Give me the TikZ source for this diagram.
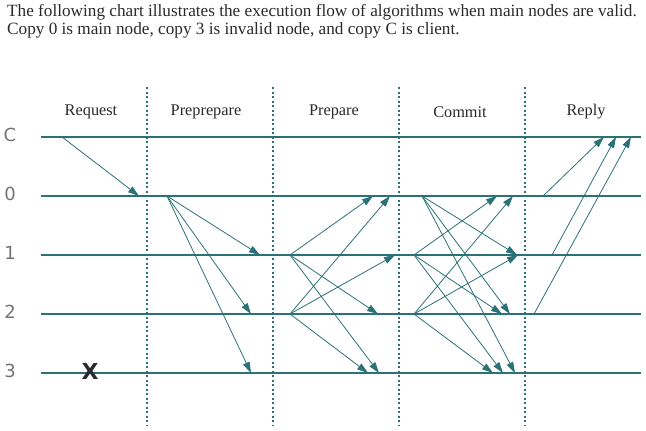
\documentclass[tikz,border=0pt]{standalone}
\usepackage{fontspec}
\setmainfont{Liberation Serif}
\newfontfamily\lblfont{DejaVu Sans}
\newfontfamily\xfont{DejaVu Sans}
\usetikzlibrary{arrows.meta}
\definecolor{teal}{HTML}{2B7178}
\definecolor{txt}{HTML}{2A2A2A}
\tikzset{
  hline/.style={draw=teal, line width=1.8pt},
  vline/.style={draw=teal, line width=1.5pt, dash pattern=on 2pt off 2.5pt},
  msg/.style={draw=teal, line width=0.8pt, -{Triangle[length=11pt,width=7pt]}},
  phase/.style={font=\fontsize{16.3}{18}\selectfont, text=txt},
  rowlbl/.style={font=\lblfont\fontsize{18}{20}\selectfont, text=black!55},
  hdr/.style={anchor=west, inner sep=0, font=\fontsize{17.2}{19}\selectfont, text=txt},
}
\begin{document}
\begin{tikzpicture}[x=1pt,y=-1pt]
\useasboundingbox (0,0) rectangle (646,431);
% header
\node[hdr] (h1) at (7,12) {The following chart illustrates the execution flow of algorithms when main nodes are valid.};
\node[hdr] (h2) at (7,30) {Copy 0 is main node, copy 3 is invalid node, and copy C is client.};
% phase labels
\node[phase] (pr) at (91,112) {Request};
\node[phase] (pp) at (206,112) {Preprepare};
\node[phase] (pa) at (334,112) {Prepare};
\node[phase] (cm) at (460,112) {Commit};
\node[phase] (rp) at (586,112) {Reply};
% vertical dotted lines
\foreach \x/\n in {147/a,273/b,399/c,525/d}{
  \coordinate (vt\n) at (\x,87);
  \coordinate (vb\n) at (\x,425);
  \draw[vline] (vt\n) -- (vb\n);
}
% rows
\foreach \y/\n/\t in {137/C/C,196/0/0,255/1/1,314/2/2,373/3/3}{
  \node[rowlbl] (l\n) at (10,\y-2) {\t};
  \coordinate (s\n) at (41,\y);
  \coordinate (e\n) at (641,\y);
  \draw[hline] (s\n) -- (e\n);
}
\node[font=\xfont\fontsize{22}{22}\selectfont\bfseries, text=txt] (x3) at (90,371) {X};
% Request
\coordinate (rqA) at (62,137); \coordinate (rqB) at (139,196);
\draw[msg] (rqA) -- (rqB);
% Preprepare
\coordinate (p0) at (167,196);
\coordinate (p01) at (260,255); \coordinate (p02) at (251,314); \coordinate (p03) at (251,373);
\draw[msg] (p0) -- (p01);
\draw[msg] (p0) -- (p02);
\draw[msg] (p0) -- (p03);
% Prepare
\coordinate (q1) at (290,255); \coordinate (q2) at (290,314);
\coordinate (q10) at (373,196); \coordinate (q12) at (378,314); \coordinate (q13) at (379,373);
\coordinate (q20) at (390,196); \coordinate (q21) at (395,255); \coordinate (q23) at (368,373);
\draw[msg] (q1) -- (q10);
\draw[msg] (q1) -- (q12);
\draw[msg] (q1) -- (q13);
\draw[msg] (q2) -- (q20);
\draw[msg] (q2) -- (q21);
\draw[msg] (q2) -- (q23);
% Commit
\coordinate (c0) at (422,196); \coordinate (c1) at (414,255); \coordinate (c2) at (414,314);
\coordinate (c01) at (517,255); \coordinate (c02) at (510,314); \coordinate (c03) at (515,373);
\coordinate (c10) at (497,196); \coordinate (c12) at (502,314); \coordinate (c13) at (503,373);
\coordinate (c20) at (513,196); \coordinate (c21) at (518,255); \coordinate (c23) at (493,373);
\draw[msg] (c0) -- (c01);
\draw[msg] (c0) -- (c02);
\draw[msg] (c0) -- (c03);
\draw[msg] (c1) -- (c10);
\draw[msg] (c1) -- (c12);
\draw[msg] (c1) -- (c13);
\draw[msg] (c2) -- (c20);
\draw[msg] (c2) -- (c21);
\draw[msg] (c2) -- (c23);
% Reply
\coordinate (r0) at (543,196); \coordinate (r1) at (552,255); \coordinate (r2) at (534,314);
\coordinate (r0C) at (604,137); \coordinate (r1C) at (616,137); \coordinate (r2C) at (631,137);
\draw[msg] (r0) -- (r0C);
\draw[msg] (r1) -- (r1C);
\draw[msg] (r2) -- (r2C);
\end{tikzpicture}
\end{document}
